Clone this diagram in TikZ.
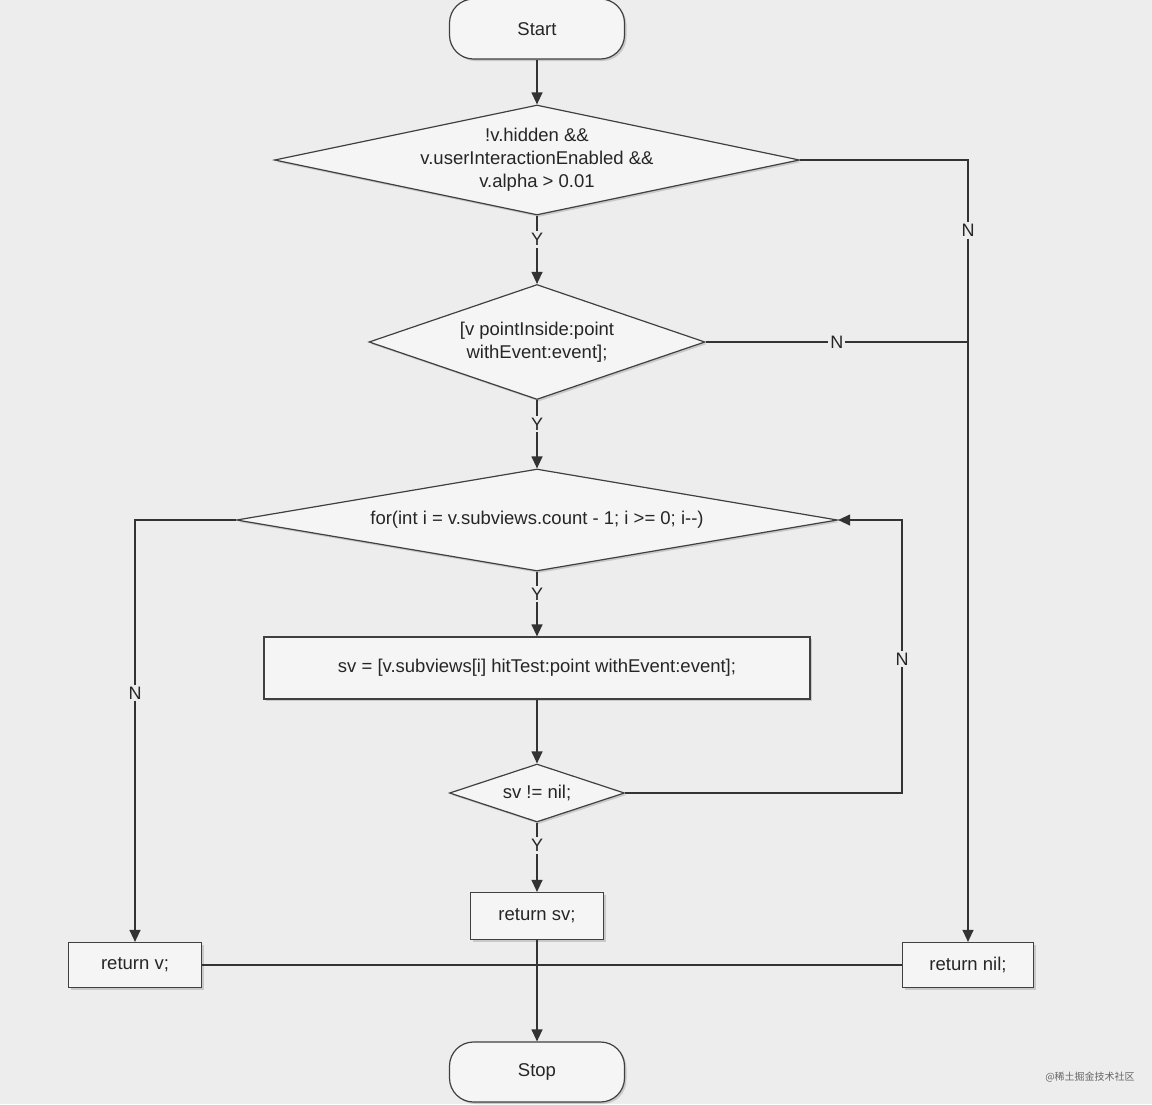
\documentclass[tikz,border=0pt]{standalone}
\usepackage{fontspec}
\setmainfont{Liberation Sans}
\newfontfamily\cjk{Noto Sans CJK SC}
\usetikzlibrary{shapes.geometric,arrows.meta,shadows}
\begin{document}
\begin{tikzpicture}[x=1pt,y=-1pt,
  box/.style={draw=black!75,line width=1.2pt,fill=black!4,drop shadow={shadow xshift=2pt,shadow yshift=-2pt,fill=black!35},inner sep=0pt},
  term/.style={box,rounded corners=24pt,minimum width=175pt,minimum height=60pt},
  txt/.style={font=\fontsize{18.5}{23}\selectfont,align=center,text=black!85},
  ln/.style={line width=1.2pt,draw=black!80},
  arr/.style={ln,-{Triangle[length=12pt,width=11pt]}},
  lab/.style={font=\fontsize{18}{20}\selectfont,fill=black!7,inner sep=2pt,text=black!85}]
\fill[black!7] (0,0) rectangle (1152,1104);
\useasboundingbox (0,0) rectangle (1152,1104);
\node[term] (start) at (537,29) {};
\node[txt] at (start) {Start};
\node[box,diamond,minimum width=525pt,minimum height=110pt] (d1) at (537,160) {};
\node[txt] at (d1) {!v.hidden \&\&\\v.userInteractionEnabled \&\&\\v.alpha > 0.01};
\node[box,diamond,minimum width=336pt,minimum height=115pt] (d2) at (537,342) {};
\node[txt] at (d2) {[v pointInside:point\\withEvent:event];};
\node[box,diamond,minimum width=601pt,minimum height=102pt] (d3) at (537,520) {};
\node[txt] at (d3) {for(int i = v.subviews.count - 1; i >= 0; i-{}-)};
\node[box,minimum width=546pt,minimum height=62pt] (sv) at (537,668) {};
\node[txt] at (sv) {sv = [v.subviews[i] hitTest:point withEvent:event];};
\node[box,diamond,minimum width=175pt,minimum height=58pt] (d4) at (537,793) {};
\node[txt] at (d4) {sv != nil;};
\node[box,minimum width=133pt,minimum height=47pt] (rsv) at (537,916) {};
\node[txt] at (rsv) {return sv;};
\node[box,minimum width=133pt,minimum height=45pt] (rv) at (135,965) {};
\node[txt] at (rv) {return v;};
\node[box,minimum width=131pt,minimum height=45pt] (rnil) at (968,965) {};
\node[txt] at (rnil) {return nil;};
\node[term] (stop) at (537,1072) {};
\node[txt] at (stop) {Stop};
\coordinate (c1) at (968,160);
\coordinate (c2) at (968,342);
\coordinate (c3) at (902,793);
\coordinate (c4) at (902,520);
\coordinate (c5) at (135,520);
\draw[arr] (start) -- (d1);
\draw[arr] (d1.south) -- node[lab,pos=0.35]{Y} (d2.north);
\draw[arr] (d1.east) -- (c1) -- node[lab,pos=0.09]{N} (rnil.north);
\draw[ln] (d2.east) -- node[lab,pos=0.5]{N} (c2);
\draw[arr] (d2.south) -- node[lab,pos=0.35]{Y} (d3.north);
\draw[arr] (d3.south) -- node[lab,pos=0.35]{Y} (sv.north);
\draw[arr] (sv) -- (d4);
\draw[arr] (d4.east) -- (c3) -- node[lab,pos=0.49]{N} (c4) -- (d3.east);
\draw[arr] (d4.south) -- node[lab,pos=0.33]{Y} (rsv.north);
\draw[arr] (d3.west) -- (c5) -- node[lab,pos=0.41]{N} (rv.north);
\draw[arr] (rsv) -- (stop);
\draw[ln] (rv.east) -- (rnil.west);
\node[font=\cjk\fontsize{10}{12}\selectfont,text=black!60] (wm) at (1090,1077) {@稀土掘金技术社区};
\end{tikzpicture}
\end{document}
